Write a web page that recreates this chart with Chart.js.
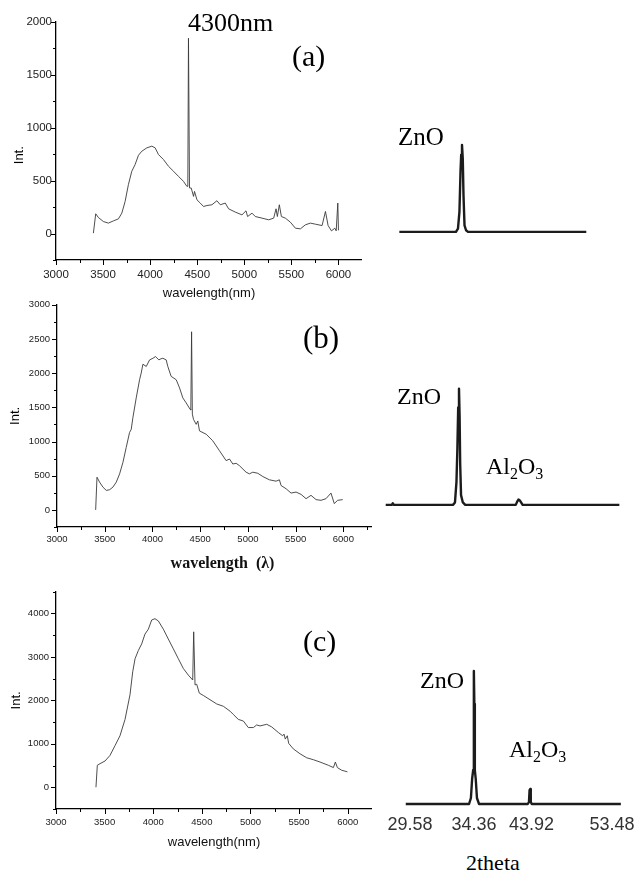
<!DOCTYPE html>
<html>
<head>
<meta charset="utf-8">
<script src="https://cdn.jsdelivr.net/npm/chart.js@4.4.1/dist/chart.umd.min.js"></script>
<style>
  html, body { margin: 0; padding: 0; background: #fff; }
  body { width: 635px; height: 881px; position: relative; overflow: hidden; }
  canvas { position: absolute; }
  .t { position: absolute; line-height: 1; white-space: nowrap; color: #000;
       font-family: "Liberation Serif", "Times New Roman", serif; }
  .sub { font-size: 16px; position: relative; top: 5px; }
</style>
</head>
<body>
<canvas id="spec-a" width="362" height="297" style="left:0px;top:8px"></canvas>
<canvas id="spec-b" width="372" height="283" style="left:0px;top:292px"></canvas>
<canvas id="spec-c" width="372" height="275" style="left:0px;top:579px"></canvas>
<canvas id="xrd-a" width="238" height="160" style="left:387px;top:110px"></canvas>
<canvas id="xrd-b" width="238" height="160" style="left:384px;top:383px"></canvas>
<canvas id="xrd-c" width="263" height="190" style="left:374px;top:654px"></canvas>

<div class="t" style="left:188px;top:10px;font-size:26px">4300nm</div>
<div class="t" style="left:292px;top:41px;font-size:30px">(a)</div>
<div class="t" style="left:303px;top:322px;font-size:31px">(b)</div>
<div class="t" style="left:303px;top:626px;font-size:30px">(c)</div>
<div class="t" style="left:398px;top:124px;font-size:25px">ZnO</div>
<div class="t" style="left:397px;top:384px;font-size:24px">ZnO</div>
<div class="t" style="left:420px;top:668px;font-size:24px">ZnO</div>
<div class="t" style="left:486px;top:454px;font-size:24px">Al<span class="sub">2</span>O<span class="sub">3</span></div>
<div class="t" style="left:509px;top:737px;font-size:24px">Al<span class="sub">2</span>O<span class="sub">3</span></div>
<div class="t" style="left:466px;top:852px;font-size:22px">2theta</div>

<script>
// spectrum (a)
const WL_A = [3397, 3422, 3450, 3503, 3556, 3610, 3663, 3699, 3734, 3769, 3805, 3840, 3876, 3911, 3965, 4018,
  4053, 4088, 4141, 4195, 4248, 4301, 4354, 4390, 4400, 4407, 4418, 4436, 4461, 4471, 4497, 4532, 4567,
  4603, 4656, 4709, 4745, 4798, 4833, 4904, 4975, 5018, 5035, 5082, 5117, 5188, 5259, 5312, 5337, 5351,
  5372, 5394, 5436, 5489, 5543, 5596, 5649, 5702, 5755, 5826, 5862, 5890, 5926, 5961, 5976, 5993, 6000];
const INT_A = [3, 186, 151, 113, 98, 119, 138, 192, 302, 461, 587, 650, 738, 776, 808, 824,
  808, 745, 698, 634, 587, 539, 492, 445, 445, 1842, 430, 429, 350, 397, 318, 287, 255,
  264, 271, 309, 271, 287, 233, 202, 176, 214, 160, 192, 160, 145, 129, 145, 233, 160,
  271, 160, 145, 107, 50, 44, 82, 98, 88, 75, 208, 75, 25, 50, 25, 287, 30];

// spectrum (b)
const WL_B = [3405, 3419, 3446, 3481, 3516, 3551, 3586, 3621, 3656, 3691, 3725, 3760, 3778, 3795, 3830, 3865,
  3882, 3900, 3935, 3970, 4005, 4032, 4067, 4090, 4109, 4144, 4161, 4196, 4249, 4284, 4318, 4353, 4395,
  4402, 4410, 4418, 4430, 4458, 4475, 4493, 4563, 4632, 4702, 4772, 4807, 4842, 4877, 4911, 4981, 5016,
  5051, 5103, 5156, 5225, 5295, 5330, 5347, 5400, 5452, 5504, 5557, 5609, 5661, 5714, 5766, 5818, 5870,
  5905, 5940, 5993];
const INT_B = [0, 478, 406, 333, 285, 295, 333, 406, 527, 696, 913, 1130, 1179, 1348, 1638, 1903,
  2000, 2130, 2097, 2193, 2217, 2242, 2193, 2210, 2217, 2193, 2097, 1952, 1903, 1783, 1638, 1565, 1469,
  1460, 2604, 1400, 1324, 1251, 1300, 1155, 1106, 1010, 865, 720, 744, 671, 681, 647, 551, 527,
  551, 536, 488, 440, 420, 440, 357, 309, 246, 261, 227, 164, 213, 150, 140, 164, 246,
  92, 140, 150];

// spectrum (c)
const WL_C = [3411, 3425, 3453, 3504, 3555, 3607, 3658, 3710, 3761, 3789, 3813, 3847, 3881, 3915, 3950, 3984,
  4018, 4053, 4104, 4155, 4207, 4258, 4310, 4361, 4406, 4416, 4430, 4447, 4474, 4515, 4584, 4653, 4721,
  4790, 4824, 4875, 4927, 4978, 5030, 5064, 5098, 5167, 5218, 5287, 5331, 5345, 5358, 5379, 5393, 5441,
  5510, 5578, 5647, 5715, 5801, 5853, 5873, 5894, 5938, 5997];
const INT_C = [0, 506, 543, 604, 732, 958, 1185, 1562, 2128, 2657, 2958, 3147, 3298, 3524, 3638, 3849,
  3879, 3826, 3638, 3411, 3185, 2958, 2732, 2581, 2468, 3577, 2355, 2370, 2166, 2113, 2015, 1917, 1864,
  1751, 1675, 1562, 1524, 1374, 1374, 1434, 1411, 1449, 1389, 1260, 1185, 1223, 1109, 1185, 1011, 883,
  770, 679, 634, 581, 506, 453, 581, 453, 392, 355];

// XRD patterns (2theta, a.u.)
const TT_A = [29.68, 33.91, 34.06, 34.17, 34.25, 34.30, 34.36, 34.49, 34.61, 34.78, 35.03, 35.36, 51.85];
const XRD_A = [0, 0, 4, 25, 75, 95, 107, 90, 45, 8, 2, 0, 0];
const TT_B = [28.92, 29.35, 29.42, 29.5, 33.91, 34.06, 34.17, 34.24, 34.30, 34.36, 34.46, 34.56, 34.7, 35.0,
  35.4, 43.8, 44.0, 44.15, 44.35, 44.65, 56.18];
const XRD_B = [0, 0, 2, 0, 0, 3, 28, 70, 120, 143, 110, 50, 12, 3, 0, 0, 4, 6.5, 5, 0, 0];
const TT_C = [29.28, 33.99, 34.13, 34.22, 34.30, 34.34, 34.36, 34.42, 34.5, 34.65, 34.85, 35.2,
  43.3, 43.5, 43.6, 43.7, 43.8, 43.95, 54.55];
const XRD_C = [0, 0, 6, 25, 34, 100, 133, 100, 34, 25, 6, 0, 0, 2, 14, 15, 2, 0, 0];

// tick labels
const WL_TICKS = [3000, 3500, 4000, 4500, 5000, 5500, 6000];
const INT_TICKS_A = [0, 500, 1000, 1500, 2000];
const INT_TICKS_B = [0, 500, 1000, 1500, 2000, 2500, 3000];
const INT_TICKS_C = [0, 1000, 2000, 3000, 4000];
const TT_TICKS = [29.58, 34.36, 43.92, 53.48];

// the 2theta axis of the original is not uniform: each labelled angle sits at its own place
const TT_BREAKS = [28.8, 29.58, 34.36, 43.92, 53.48, 56.5];
const TT_FRACTIONS = [0, 0.0462, 0.3151, 0.5567, 0.895, 1];

function ttToDecimal(v) {
  for (let i = 1; i < TT_BREAKS.length; i++) {
    if (v <= TT_BREAKS[i] || i === TT_BREAKS.length - 1) {
      const a = TT_BREAKS[i - 1], b = TT_BREAKS[i];
      return TT_FRACTIONS[i - 1] + (v - a) / (b - a) * (TT_FRACTIONS[i] - TT_FRACTIONS[i - 1]);
    }
  }
}

function decimalToTt(d) {
  for (let i = 1; i < TT_FRACTIONS.length; i++) {
    if (d <= TT_FRACTIONS[i] || i === TT_FRACTIONS.length - 1) {
      const a = TT_FRACTIONS[i - 1], b = TT_FRACTIONS[i];
      return TT_BREAKS[i - 1] + (d - a) / (b - a) * (TT_BREAKS[i] - TT_BREAKS[i - 1]);
    }
  }
}

class PiecewiseScale extends Chart.LinearScale {
  getPixelForValue(value) {
    return this.getPixelForDecimal(ttToDecimal(value));
  }
  getValueForPixel(pixel) {
    return decimalToTt(this.getDecimalForPixel(pixel));
  }
}
PiecewiseScale.id = "piecewise";
PiecewiseScale.defaults = Chart.LinearScale.defaults;
Chart.register(PiecewiseScale);

// outward major ticks on the labels, short minor ticks half way between
const axisTicks = {
  id: "axisTicks",
  afterDraw(chart) {
    const ctx = chart.ctx;
    ctx.save();
    ctx.strokeStyle = "#000";
    ctx.lineWidth = 1;
    ["x", "y"].forEach((id) => {
      const s = chart.scales[id];
      const vals = s.ticks.map((t) => t.value);
      const half = (vals[1] - vals[0]) / 2;
      const minors = vals.map((v) => v + half);
      minors.unshift(vals[0] - half);
      const marks = vals.map((v) => [v, 5]).concat(
        minors.filter((v) => v >= s.min && v <= s.max).map((v) => [v, 3])
      );
      marks.forEach(([v, len]) => {
        const p = Math.round(s.getPixelForValue(v)) + 0.5;
        ctx.beginPath();
        if (id === "x") {
          ctx.moveTo(p, s.top);
          ctx.lineTo(p, s.top + len);
        } else {
          ctx.moveTo(s.right, p);
          ctx.lineTo(s.right - len, p);
        }
        ctx.stroke();
      });
    });
    ctx.restore();
  },
};

function toPoints(xs, ys) {
  return xs.map((x, i) => ({ x, y: ys[i] }));
}

function spectrumChart(id, xs, ys, cfg) {
  new Chart(document.getElementById(id), {
    type: "line",
    data: {
      datasets: [{
        data: toPoints(xs, ys),
        borderColor: "#3a3a3a",
        borderWidth: 0.9,
        pointRadius: 0,
        tension: 0,
      }],
    },
    options: {
      responsive: false,
      animation: false,
      events: [],
      layout: { padding: { top: cfg.padTop, left: 0, right: 0, bottom: 0 } },
      plugins: { legend: { display: false }, tooltip: { enabled: false } },
      scales: {
        x: {
          type: "linear",
          min: 3000,
          max: cfg.xMax,
          afterBuildTicks: (s) => { s.ticks = WL_TICKS.map((v) => ({ value: v })); },
          afterFit: (s) => { s.height = cfg.xHeight; },
          grid: { drawOnChartArea: false, drawTicks: false },
          border: { color: "#000", width: 1.3 },
          ticks: {
            color: "#222",
            padding: cfg.tickPadX,
            maxRotation: 0,
            autoSkip: false,
            font: { family: "'Liberation Sans', Arial, sans-serif", size: cfg.tickSize },
            callback: (v) => String(v),
          },
          title: {
            display: true,
            text: cfg.xTitle,
            color: "#111",
            font: cfg.xTitleFont,
            padding: { top: 0, bottom: cfg.xTitlePad },
          },
        },
        y: {
          type: "linear",
          min: cfg.yMin,
          max: cfg.yMax,
          afterBuildTicks: (s) => { s.ticks = cfg.yTicks.map((v) => ({ value: v })); },
          afterFit: (s) => { s.width = cfg.yWidth; },
          grid: { drawOnChartArea: false, drawTicks: false },
          border: { color: "#000", width: 1.3 },
          ticks: {
            color: "#222",
            padding: cfg.tickPadY,
            font: { family: "'Liberation Sans', Arial, sans-serif", size: cfg.tickSize },
            callback: (v) => String(v),
          },
          title: {
            display: true,
            text: cfg.yTitle,
            color: "#000",
            font: { family: "'Liberation Sans', Arial, sans-serif", size: 13 },
            padding: { top: cfg.yTitlePad, bottom: 0 },
          },
        },
      },
    },
    plugins: [axisTicks],
  });
}

function xrdChart(id, xs, ys, showAxis) {
  new Chart(document.getElementById(id), {
    type: "line",
    data: {
      datasets: [{
        data: toPoints(xs, ys),
        borderColor: "#1c1c1c",
        borderWidth: 2.4,
        borderJoinStyle: "round",
        pointRadius: 0,
        tension: 0,
        clip: false,
      }],
    },
    options: {
      responsive: false,
      animation: false,
      events: [],
      layout: { padding: { left: showAxis ? 25 : 0, right: 0, top: 0, bottom: 0 } },
      plugins: { legend: { display: false }, tooltip: { enabled: false } },
      scales: {
        x: {
          type: "piecewise",
          display: showAxis,
          min: 28.8,
          max: 56.5,
          afterBuildTicks: (s) => { s.ticks = TT_TICKS.map((v) => ({ value: v })); },
          afterFit: (s) => { s.height = 30; },
          grid: { display: false, drawTicks: false },
          border: { display: false },
          ticks: {
            color: "#333",
            padding: 0,
            maxRotation: 0,
            autoSkip: false,
            font: { family: "'Liberation Sans', Arial, sans-serif", size: 18 },
            callback: (v) => Number(v).toFixed(2),
          },
        },
        y: { display: false, min: -10, max: 150 },
      },
    },
  });
}

spectrumChart("spec-a", WL_A, INT_A, {
  padTop: 13.5, xMax: 6250, xHeight: 45, yWidth: 56, yMin: -250, yMax: 2000,
  yTicks: INT_TICKS_A, tickSize: 11.5, tickPadX: 8, tickPadY: 4,
  xTitle: "wavelength(nm)", yTitle: "Int.        ",
  xTitleFont: { family: "'Liberation Sans', Arial, sans-serif", size: 13 },
  xTitlePad: 4, yTitlePad: 12,
});

spectrumChart("spec-b", WL_B, INT_B, {
  padTop: 10, xMax: 6300, xHeight: 48, yWidth: 57, yMin: -250, yMax: 3000,
  yTicks: INT_TICKS_B, tickSize: 9.5, tickPadX: 7, tickPadY: 7,
  xTitle: "    wavelength  (\u03bb)", yTitle: "Int.",
  xTitleFont: { family: "'Liberation Serif', 'Times New Roman', serif", size: 16, weight: "bold" },
  xTitlePad: 2, yTitlePad: 8,
});

spectrumChart("spec-c", WL_C, INT_C, {
  padTop: 10, xMax: 6250, xHeight: 45, yWidth: 56, yMin: -500, yMax: 4500,
  yTicks: INT_TICKS_C, tickSize: 9.5, tickPadX: 7.5, tickPadY: 7,
  xTitle: "wavelength(nm)", yTitle: "Int.",
  xTitleFont: { family: "'Liberation Sans', Arial, sans-serif", size: 13 },
  xTitlePad: 4, yTitlePad: 9,
});

xrdChart("xrd-a", TT_A, XRD_A, false);
xrdChart("xrd-b", TT_B, XRD_B, false);
xrdChart("xrd-c", TT_C, XRD_C, true);
</script>
</body>
</html>
